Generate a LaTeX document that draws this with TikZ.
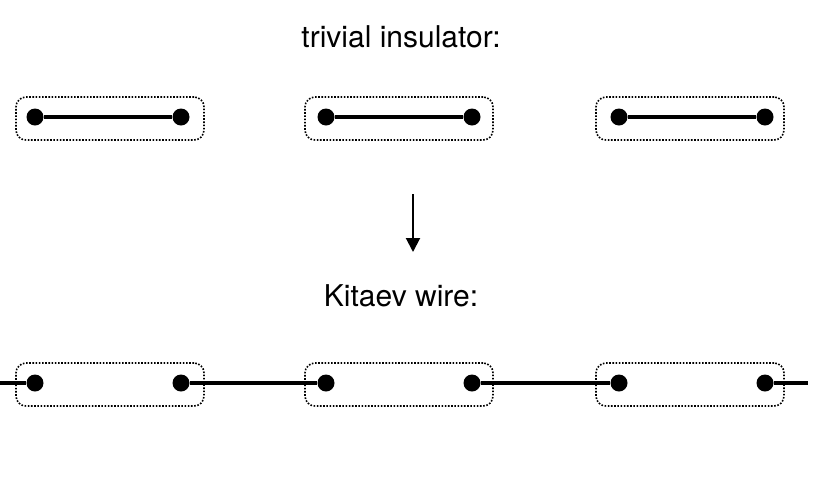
\documentclass[tikz,border=0pt]{standalone}
\usepackage{fontspec}
\setmainfont{TeX Gyre Heros}
\usetikzlibrary{arrows.meta}

\begin{document}
\begin{tikzpicture}[x=0.5pt, y=-0.5pt, >={Triangle[width=7pt, length=7pt]},
        site/.style={circle, fill=black, inner sep=0pt, minimum size=8.5pt},
        pair/.style={rectangle, draw, dash pattern=on 0.8pt off 0.8pt, line width=0.8pt, rounded corners=5pt, minimum width=94pt, minimum height=21.5pt, inner sep=0pt},
        bond/.style={line width=2.2pt},
        title/.style={anchor=base, font=\fontsize{15}{18}\selectfont}]
    \useasboundingbox (0,0) rectangle (830,483);

    % trivial insulator
    \node[title] (t1) at (401,47) {trivial insulator:};
    \node[pair] (p1) at (110,118.5) {};
    \node[pair] (p2) at (399,118.5) {};
    \node[pair] (p3) at (690,118.5) {};
    \node[site] (a1) at (35,117) {};
    \node[site] (a2) at (181,117) {};
    \node[site] (a3) at (326,117) {};
    \node[site] (a4) at (472,117) {};
    \node[site] (a5) at (619,117) {};
    \node[site] (a6) at (765,117) {};
    \draw[bond] (a1) -- (a2);
    \draw[bond] (a3) -- (a4);
    \draw[bond] (a5) -- (a6);

    % arrow
    \coordinate (up) at (413,194);
    \coordinate (down) at (413,252);
    \draw[->, line width=1pt] (up) -- (down);

    % Kitaev wire
    \node[title] (t2) at (401,306) {Kitaev wire:};
    \node[pair] (q1) at (110,384.5) {};
    \node[pair] (q2) at (399,384.5) {};
    \node[pair] (q3) at (690,384.5) {};
    \node[site] (b1) at (35,383) {};
    \node[site] (b2) at (181,383) {};
    \node[site] (b3) at (326,383) {};
    \node[site] (b4) at (472,383) {};
    \node[site] (b5) at (619,383) {};
    \node[site] (b6) at (765,383) {};
    \coordinate (left) at (0,383);
    \coordinate (right) at (808,383);
    \draw[bond] (left) -- (b1);
    \draw[bond] (b2) -- (b3);
    \draw[bond] (b4) -- (b5);
    \draw[bond] (b6) -- (right);
\end{tikzpicture}
\end{document}
